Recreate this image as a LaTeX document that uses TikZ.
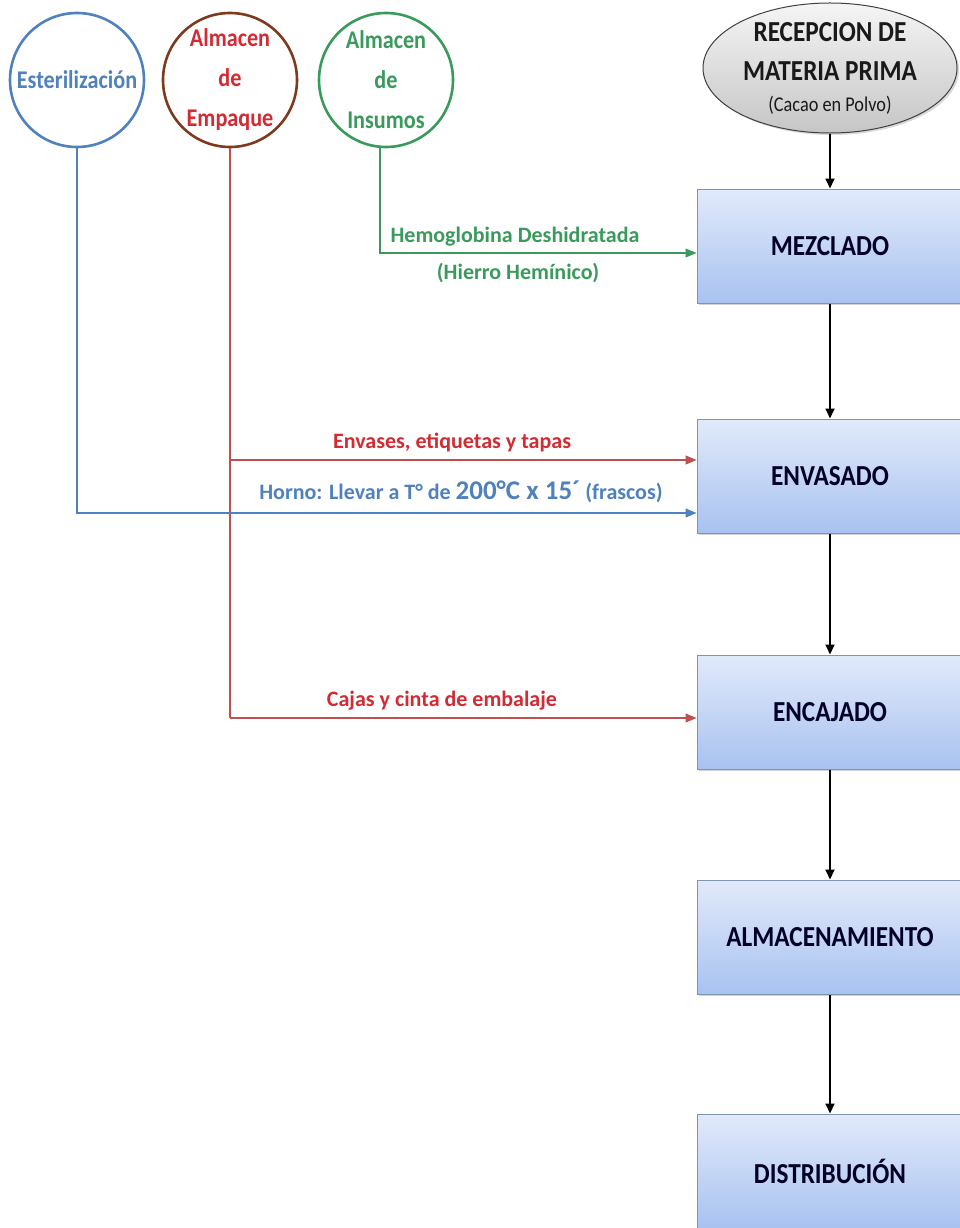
\documentclass[tikz,border=0pt]{standalone}
\usepackage{fontspec}
\setmainfont{Carlito}
\newfontfamily\narrowfont{Carlito}[FakeStretch=0.87]
\usetikzlibrary{shapes.geometric,arrows.meta,shadows}
\definecolor{stepblue}{HTML}{4F81BD}
\definecolor{stepred}{HTML}{C0504D}
\definecolor{txtred}{HTML}{D22B33}
\definecolor{ringbrown}{HTML}{7E3A1C}
\definecolor{stepgreen}{HTML}{3A9A5C}
\definecolor{boxtop}{HTML}{E2EAFB}
\definecolor{boxbot}{HTML}{A8C2F0}
\definecolor{boxedge}{HTML}{7F93B3}
\tikzset{
  stage/.style={draw=boxedge, line width=1pt, top color=boxtop, bottom color=boxbot,
    minimum width=266pt, minimum height=114pt, inner sep=0pt,
    font=\narrowfont\fontsize{29}{32}\selectfont\bfseries, text=black!85!blue,
    drop shadow={shadow xshift=2pt, shadow yshift=-2pt, opacity=0.35}},
  ring/.style={circle, line width=2.6pt, minimum size=134pt, inner sep=0pt, fill=white,
    font=\narrowfont\fontsize{25.5}{40}\selectfont\bfseries, align=center},
  flow/.style={-{Triangle[length=10pt,width=9pt]}, line width=1.8pt, black},
  feed/.style={-{Triangle[length=11pt,width=9pt]}, line width=1.1pt},
  lbl/.style={font=\fontsize{22}{26}\selectfont\bfseries, align=center, inner sep=0pt}
}
\begin{document}
\begin{tikzpicture}[x=1pt,y=-1pt]
\useasboundingbox (0,0) rectangle (959,1228);

% main process column
\node[ellipse, draw=black!75, line width=1pt, top color=gray!8, bottom color=gray!45,
  minimum width=254pt, minimum height=128pt, inner sep=0pt, align=center,
  font=\narrowfont\fontsize{29}{39}\selectfont\bfseries, text=black!90,
  drop shadow={shadow xshift=2pt, shadow yshift=-2pt, opacity=0.3}]
  (rec) at (830,68) {RECEPCION DE\\MATERIA PRIMA\\[-8pt]
  {\fontsize{21}{24}\selectfont\mdseries (Cacao en Polvo)}};
\node[stage] (mez) at (830,246) {MEZCLADO};
\node[stage] (env) at (830,476) {ENVASADO};
\node[stage] (enc) at (830,712) {ENCAJADO};
\node[stage] (alm) at (830,937) {ALMACENAMIENTO};
\node[stage] (dis) at (830,1171) {DISTRIBUCIÓN};

\draw[flow] (rec) -- (mez);
\draw[flow] (mez) -- (env);
\draw[flow] (env) -- (enc);
\draw[flow] (enc) -- (alm);
\draw[flow] (alm) -- (dis);

% supply stores
\node[ring, draw=stepblue, text=stepblue] (est) at (77,80) {Esterilización};
\node[ring, draw=ringbrown, text=txtred] (emp) at (230,80) {Almacen\\de\\Empaque};
\node[ring, draw=stepgreen, text=stepgreen] (ins) at (386,80) {Almacen\\de\\Insumos};

% feed lines
\coordinate (g1) at ([xshift=-6pt]ins.south |- 0,253);
\draw[feed, stepgreen] ([xshift=-6pt]ins.south) -- (g1) -- (g1 -| mez.west);
\node[lbl, text=stepgreen] (gl1) at (515,237) {Hemoglobina Deshidratada};
\node[lbl, text=stepgreen] (gl2) at (518,273) {(Hierro Hemínico)};

\coordinate (r1) at (emp.south |- 0,460);
\coordinate (r2) at (emp.south |- 0,718);
\draw[stepred, line width=1.1pt] (emp.south) -- (r2);
\draw[feed, stepred] (r1) -- (r1 -| env.west);
\draw[feed, stepred] (r2) -- (r2 -| enc.west);
\node[lbl, text=txtred] (rl1) at (452,442) {Envases, etiquetas y tapas};
\node[lbl, text=txtred] (rl2) at (442,701) {Cajas y cinta de embalaje};

\coordinate (b1) at (est.south |- 0,513);
\draw[feed, stepblue] (est.south) -- (b1) -- (b1 -| env.west);
\node[lbl, text=stepblue] (bl) at (461,492) {Horno: Llevar a T° de {\fontsize{27}{28}\selectfont 200°C x 15´} (frascos)};
\end{tikzpicture}
\end{document}
